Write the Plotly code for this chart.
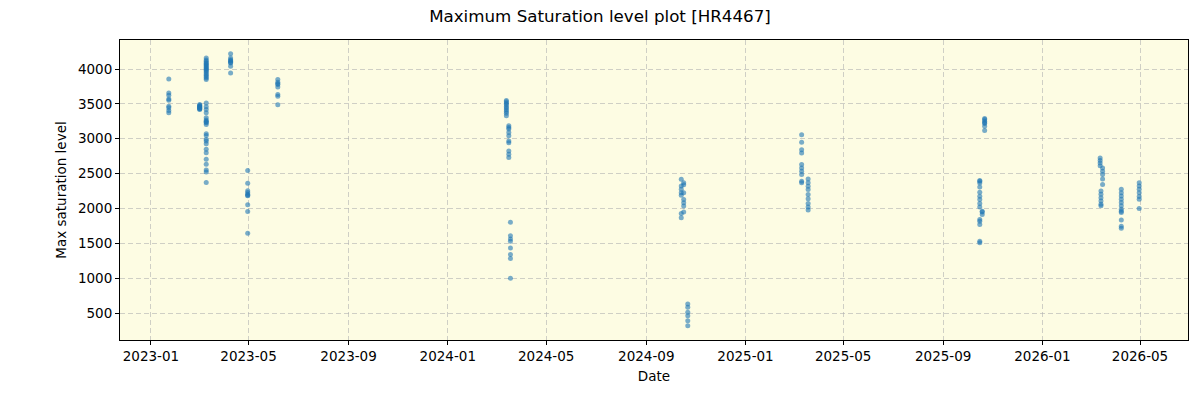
import plotly.graph_objects as go

# Observation groups: (date, values)
dates_a = ["2023-01-23"] * 9
vals_a = [3857, 3657, 3624, 3571, 3552, 3467, 3443, 3405, 3371]

dates_b = ["2023-03-02"] * 10
vals_b = [3490, 3480, 3470, 3462, 3455, 3448, 3440, 3432, 3425, 3418]

dates_c = ["2023-03-10"] * 40
vals_c = [4157, 4130, 4110, 4090, 4075, 4060, 4045, 4030, 4015, 4000, 3985, 3970,
          3950, 3930, 3910, 3890, 3870, 3848,
          3514, 3457, 3419, 3371, 3300, 3267, 3229, 3205, 3071, 3048, 2990, 2967,
          2929, 2848, 2800, 2705, 2633, 2552, 2524, 2371, 3240, 3250]

dates_d = ["2023-04-09"] * 9
vals_d = [4219, 4157, 4133, 4120, 4110, 4095, 4086, 4038, 3943]

dates_e = ["2023-04-30"] * 10
vals_e = [2543, 2362, 2252, 2229, 2205, 2190, 2181, 2052, 1957, 1643]

dates_f = ["2023-06-06"] * 8
vals_f = [3848, 3810, 3790, 3776, 3743, 3633, 3610, 3486]

dates_g = ["2024-03-13"] * 10 + ["2024-03-16"] * 10 + ["2024-03-18"] * 8
vals_g = [3548, 3530, 3510, 3490, 3462, 3440, 3414, 3390, 3367, 3329,
          3186, 3160, 3138, 3090, 3043, 2967, 2943, 2824, 2776, 2729,
          1802, 1610, 1562, 1529, 1433, 1338, 1281, 1000]

dates_h = ["2024-10-14"] * 7 + ["2024-10-17"] * 7 + ["2024-10-22"] * 6
vals_h = [2418, 2322, 2274, 2226, 2188, 1928, 1866,
          2370, 2340, 2226, 2130, 2082, 2034, 1950,
          630, 582, 510, 462, 390, 318]

dates_i = ["2025-03-11"] * 10 + ["2025-03-19"] * 9
vals_i = [3057, 2948, 2843, 2795, 2629, 2581, 2533, 2486, 2390, 2370,
          2424, 2367, 2319, 2271, 2200, 2138, 2071, 2020, 1976]

dates_j = ["2025-10-22"] * 7 + ["2025-10-16"] * 14 + ["2025-10-19"] * 3
vals_j = [3290, 3275, 3250, 3230, 3218, 3180, 3118,
          2400, 2366, 2309, 2232, 2175, 2127, 2070, 2022, 1842, 1818, 1770, 1531, 1508, 2390,
          1960, 1913, 1950]

dates_k = ["2026-03-13"] * 4 + ["2026-03-16"] * 5 + ["2026-03-14"] * 6
vals_k = [2722, 2689, 2651, 2613,
          2580, 2533, 2486, 2424, 2344,
          2250, 2203, 2155, 2108, 2061, 2037]

dates_l = ["2026-04-08"] * 12
vals_l = [2274, 2226, 2179, 2132, 2084, 2037, 1990, 1960, 1943, 1834, 1745, 1716]

dates_m = ["2026-04-30"] * 7
vals_m = [2368, 2321, 2274, 2226, 2170, 2132, 2000]

dates = (dates_a + dates_b + dates_c + dates_d + dates_e + dates_f + dates_g +
         dates_h + dates_i + dates_j + dates_k + dates_l + dates_m)
values = (vals_a + vals_b + vals_c + vals_d + vals_e + vals_f + vals_g +
          vals_h + vals_i + vals_j + vals_k + vals_l + vals_m)

y_ticks = [500, 1000, 1500, 2000, 2500, 3000, 3500, 4000]
x_ticks = ["2023-01-01", "2023-05-01", "2023-09-01", "2024-01-01", "2024-05-01",
           "2024-09-01", "2025-01-01", "2025-05-01", "2025-09-01", "2026-01-01",
           "2026-05-01"]

fig = go.Figure()
fig.add_trace(go.Scatter(
    x=dates, y=values, mode="markers",
    marker=dict(color="rgba(31,119,180,0.6)", size=5, line=dict(width=0)),
    showlegend=False,
))

font = "DejaVu Sans, Liberation Sans, sans-serif"
fig.update_layout(
    width=1200, height=400,
    margin=dict(l=120, r=12, t=40, b=60),
    paper_bgcolor="white",
    plot_bgcolor="#FDFCE3",
    font=dict(family=font, size=13.5, color="black"),
    title=dict(text="Maximum Saturation level plot [HR4467]", x=0.5, xref="container",
               xanchor="center", y=0.96, yanchor="middle", yref="container",
               font=dict(size=16.7, family=font)),
)
grid = dict(showgrid=True, gridcolor="rgba(176,176,176,0.6)", griddash="5px,3px", gridwidth=1)
fig.update_xaxes(
    range=["2022-11-24", "2026-06-29"],
    tickvals=x_ticks, tickformat="%Y-%m",
    ticks="outside", ticklen=4, tickcolor="black",
    showline=True, linecolor="black", linewidth=1, mirror=True,
    zeroline=False, **grid,
    title=dict(text="Date", font=dict(size=13.5), standoff=8),
)
fig.update_yaxes(
    range=[113, 4416],
    tickvals=y_ticks,
    ticks="outside", ticklen=4, tickcolor="black",
    showline=True, linecolor="black", linewidth=1, mirror=True,
    zeroline=False, **grid,
    title=dict(text="Max saturation level", font=dict(size=13.5), standoff=8),
)

fig.write_html("out.html")
